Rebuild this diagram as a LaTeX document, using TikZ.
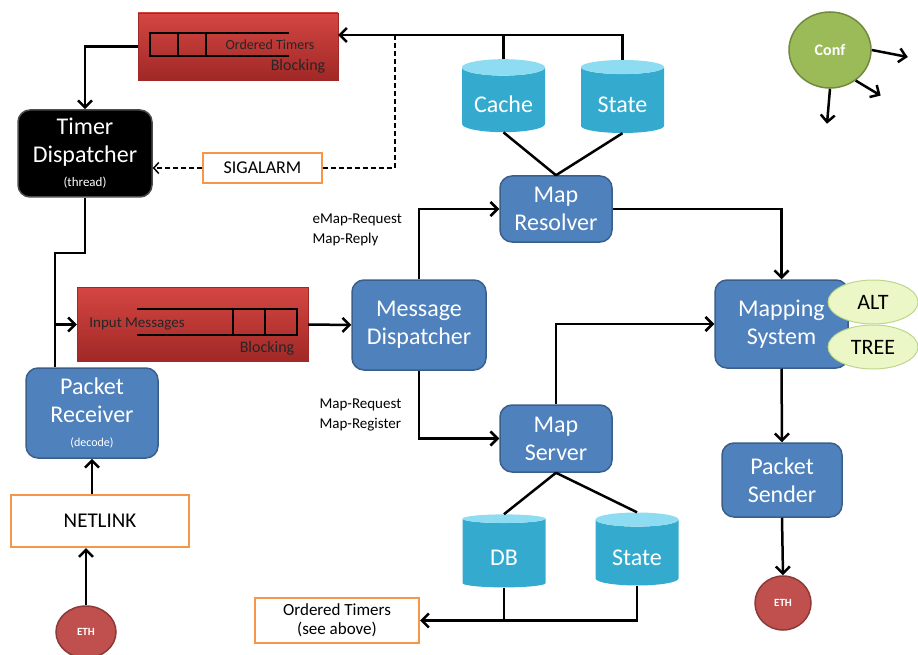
\documentclass[tikz,border=0pt]{standalone}
\usepackage{fontspec}
\setmainfont{Carlito}
\usetikzlibrary{shapes.geometric,arrows.meta}

\definecolor{boxblue}{RGB}{79,129,189}
\definecolor{boxedge}{RGB}{58,95,139}
\definecolor{redtop}{RGB}{212,70,66}
\definecolor{redbot}{RGB}{160,40,38}
\definecolor{boxorange}{RGB}{247,150,70}
\definecolor{cylbody}{RGB}{52,170,207}
\definecolor{cyltop}{RGB}{142,220,241}
\definecolor{confgreen}{RGB}{155,187,89}
\definecolor{confedge}{RGB}{113,137,63}
\definecolor{treefill}{RGB}{236,247,200}
\definecolor{treeedge}{RGB}{190,214,140}
\definecolor{ethred}{RGB}{192,80,77}
\definecolor{ethedge}{RGB}{140,58,56}

\newcommand{\cyltext}[1]{\raisebox{-11pt}[0pt][0pt]{#1}}

\tikzset{
  blockbox/.style={rectangle, draw=boxedge, line width=1.5pt, fill=boxblue, rounded corners=12pt,
    text=white, align=center, font=\fontsize{24}{28}\selectfont},
  queuebox/.style={rectangle, top color=redtop, bottom color=redbot, draw=redbot},
  signalbox/.style={rectangle, draw=boxorange, line width=2pt, fill=white, align=center},
  storage/.style={cylinder, shape border rotate=90, aspect=0.25, cylinder uses custom fill,
    cylinder body fill=cylbody, cylinder end fill=cyltop, draw=none, text=white,
    minimum width=83pt, minimum height=73pt, font=\fontsize{24}{28}\selectfont},
  treenode/.style={ellipse, draw=treeedge, line width=1pt, fill=treefill, minimum width=90pt,
    minimum height=44pt, font=\fontsize{22}{24}\selectfont},
  ethnode/.style={ellipse, draw=ethedge, line width=1.5pt, fill=ethred, text=white,
    font=\bfseries\fontsize{11}{12}\selectfont},
  wire/.style={line width=2.5pt},
  arr/.style={line width=2.5pt, -{Straight Barb[length=7pt,width=14pt]}},
  dashline/.style={line width=1.5pt, dash pattern=on 5pt off 3pt},
  queueline/.style={line width=2.5pt, line cap=rect},
}

\begin{document}
\begin{tikzpicture}[x=1pt, y=-1pt]
    \useasboundingbox (0,0) rectangle (918,655);

    \node[queuebox, minimum width=200pt, minimum height=67pt] (otimers) at (238,46.5) {};
    \draw[queueline] (288,33) -- (150,33) -- (150,56) -- (288,56);
    \draw[queueline] (178,33) -- (178,56);
    \draw[queueline] (206,33) -- (206,56);
    \node[text=black!85, font=\fontsize{14}{16}\selectfont] (otimerslbl) at (270,45) {Ordered Timers};
    \node[text=black!85, font=\fontsize{16}{18}\selectfont] (otimersblk) at (298,66) {Blocking};

    \node[rectangle, rounded corners=12pt, fill=black, draw=black!70, line width=1.5pt, text=white, align=center,
      font=\fontsize{24}{28}\selectfont, minimum width=134pt, minimum height=87pt] (timerdisp) at (85,153.5)
      {Timer\\Dispatcher\\[-4pt]{\fontsize{13}{15}\selectfont (thread)}};

    \node[signalbox, minimum width=119pt, minimum height=30pt, font=\fontsize{18}{20}\selectfont] (sigalarm) at (262.5,168) {SIGALARM};

    \node[storage] (cache) at (503.5,101.5) {\cyltext{Cache}};
    \node[storage] (state1) at (622.5,101.5) {\cyltext{State}};

    \node[blockbox, minimum width=112pt, minimum height=66pt] (mapres) at (556,209) {Map\\Resolver};

    \node[queuebox, minimum width=231pt, minimum height=74pt] (inmsg) at (192.5,324.5) {};
    \draw[queueline] (138,309) -- (297,309) -- (297,335) -- (138,335);
    \draw[queueline] (233,309) -- (233,335);
    \draw[queueline] (265,309) -- (265,335);
    \node[text=black!85, font=\fontsize{15}{17}\selectfont] (inmsglbl) at (137,324) {Input Messages};
    \node[text=black!85, font=\fontsize{16}{18}\selectfont] (inmsgblk) at (267,348) {Blocking};

    \node[blockbox, minimum width=134pt, minimum height=90pt] (msgdisp) at (419,325) {Message\\Dispatcher};

    \node[anchor=west, align=left, font=\fontsize{15}{20}\selectfont] (replylbl) at (309,230) {eMap-Request\\Map-Reply};
    \node[anchor=west, align=left, font=\fontsize{15}{20}\selectfont] (reglbl) at (316,415) {Map-Request\\Map-Register};

    \node[blockbox, minimum width=112pt, minimum height=67pt] (mapserv) at (556,438.5) {Map\\Server};

    \node[blockbox, minimum width=133pt, minimum height=88pt] (mapsys) at (781.5,324) {Mapping\\System};
    \node[treenode] (alt) at (873,302) {ALT};
    \node[treenode] (tree) at (873,347) {TREE};

    \node[blockbox, minimum width=120pt, minimum height=74pt] (psend) at (782,480) {Packet\\Sender};
    \node[ethnode, minimum width=56pt, minimum height=54pt] (eth2) at (783,603) {ETH};

    \node[storage] (db) at (504,554) {\cyltext{DB}};
    \node[storage] (state2) at (637,554) {\cyltext{State}};

    \node[signalbox, minimum width=164pt, minimum height=45pt, font=\fontsize{17}{19}\selectfont] (otimers2) at (337,620.5)
      {Ordered Timers\\(see above)};

    \node[blockbox, minimum width=132pt, minimum height=90pt] (prec) at (92,413)
      {Packet\\Receiver\\[-4pt]{\fontsize{12}{14}\selectfont (decode)}};

    \node[signalbox, minimum width=178pt, minimum height=52pt, font=\fontsize{21}{23}\selectfont] (netlink) at (100,521) {NETLINK};
    \node[ethnode, minimum width=60pt, minimum height=52pt] (eth1) at (86,632) {ETH};

    \node[ellipse, draw=confedge, line width=1.5pt, fill=confgreen, text=white, minimum width=82pt, minimum height=76pt,
      font=\bfseries\fontsize{16}{18}\selectfont] (conf) at (830,50) {Conf};

    \coordinate (toprail) at (395,35);
    \coordinate (bend) at (55,253);

    \draw[arr] (state1.north) |- (otimers.east |- toprail);
    \draw[wire] (cache.north) -- (cache.north |- toprail);
    \draw[arr] (otimers.west) -| (timerdisp.north);
    \draw[dashline] (toprail) |- (sigalarm.east);
    \draw[dashline, -{Straight Barb[length=5pt,width=11pt]}] (sigalarm.west) -- (timerdisp.east |- sigalarm.west);

    \draw[wire] (timerdisp.south) |- (bend) -- (bend |- prec.north);
    \draw[arr] (bend |- inmsg.west) -- (inmsg.west);
    \draw[arr] (inmsg.east) -- (msgdisp.west);

    \draw[arr] (msgdisp.north) |- (mapres.west);
    \draw[arr] (msgdisp.south) |- (mapserv.west);
    \draw[wire] (cache.south) -- (mapres.north);
    \draw[wire] (state1.south) -- (mapres.north);
    \draw[arr] (mapres.east) -| (mapsys.north);
    \draw[arr] (mapserv.north) |- (mapsys.west);
    \draw[arr] (mapsys.south) -- (psend.north);
    \draw[arr] (psend.south) -- (eth2.north);

    \draw[wire] (mapserv.south) -- (db.north);
    \draw[wire] (mapserv.south) -- (state2.north);
    \draw[wire] (db.south) -- (db.south |- otimers2.east);
    \draw[arr] (state2.south) |- (otimers2.east);

    \draw[arr] (prec.south |- netlink.north) -- (prec.south);
    \draw[arr] (eth1.north) -- (eth1.north |- netlink.south);

    \draw[arr] (conf.east) -- ++(36,7);
    \draw[arr] (conf.-50) -- ++(25,15);
    \draw[arr] (conf.south) -- ++(-3,35);
  \end{tikzpicture}
\end{document}
